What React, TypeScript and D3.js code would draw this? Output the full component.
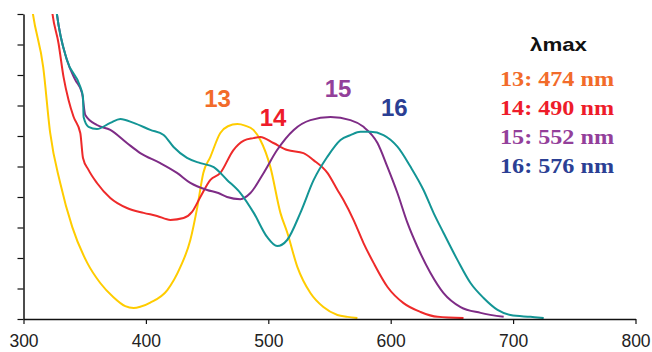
import React, { useRef, useEffect } from 'react';
import * as d3 from 'd3';

// wavelengths (nm) and absorbance (arbitrary units, 0..1 = full axis)
const wl13 = [305, 307.7, 316.1, 321.8, 330, 339.8, 352.1, 362.7, 373.3, 383.1, 390, 395.4, 403.6, 417.5, 428.1, 436.3, 442, 446.9, 452.6, 460.8, 467, 474.7, 481, 487.8, 493.5, 501.7, 509.9, 515.6, 523.8, 534.4, 545, 556.5, 564.7, 572.8];
const abs13 = [1.08, 1.0, 0.826, 0.61, 0.446, 0.302, 0.184, 0.118, 0.072, 0.042, 0.036, 0.04, 0.054, 0.095, 0.17, 0.259, 0.367, 0.479, 0.531, 0.61, 0.632, 0.639, 0.634, 0.62, 0.587, 0.498, 0.348, 0.282, 0.17, 0.085, 0.039, 0.013, 0.007, 0.003];

const wl14 = [321, 323.7, 328.6, 332.7, 336.8, 340.9, 346.4, 348.6, 353.1, 360, 370.9, 384.5, 398.1, 409.1, 420, 430.8, 437.7, 444.5, 452.7, 460.8, 471.5, 480, 487.8, 493.5, 504.2, 515.6, 528.7, 536.9, 548.3, 556.5, 561.4, 569.6, 577.8, 586, 597.4, 610.5, 624.4, 638.3, 659.5];
const abs14 = [1.1, 1.0, 0.904, 0.794, 0.718, 0.663, 0.61, 0.528, 0.489, 0.446, 0.397, 0.364, 0.348, 0.338, 0.325, 0.331, 0.351, 0.4, 0.456, 0.479, 0.554, 0.585, 0.593, 0.597, 0.577, 0.554, 0.544, 0.521, 0.479, 0.423, 0.39, 0.325, 0.249, 0.184, 0.105, 0.052, 0.023, 0.007, 0.003];

const wl15 = [325, 327.3, 335.5, 342.3, 347.8, 350.5, 360, 370.9, 384.5, 395.4, 411.8, 425.4, 436.3, 450, 459.2, 466.3, 477.2, 485.4, 496.2, 507.2, 520.8, 534.4, 550.8, 567.1, 577.8, 589.2, 597.4, 605.5, 613.7, 621.9, 632.5, 643.2, 657.1, 673.5, 692.3];
const abs15 = [1.08, 1.0, 0.849, 0.784, 0.741, 0.669, 0.636, 0.62, 0.577, 0.544, 0.511, 0.479, 0.446, 0.423, 0.413, 0.4, 0.393, 0.413, 0.479, 0.554, 0.62, 0.652, 0.662, 0.652, 0.63, 0.577, 0.498, 0.413, 0.315, 0.236, 0.151, 0.085, 0.039, 0.02, 0.007];

const wl16 = [325, 327.3, 335.5, 346.4, 348.6, 349.1, 353.1, 360, 370.9, 379.1, 390, 403.6, 414.5, 422.6, 433.6, 444.5, 455.4, 466.3, 477.2, 488.1, 499, 507.2, 515.4, 526.2, 537.1, 548.1, 559, 567.1, 575.3, 583.5, 594.1, 605.5, 616.2, 626.8, 635, 643.2, 654.6, 665.2, 675.9, 687.3, 697.9, 714.3, 725];
const abs16 = [1.08, 1.0, 0.849, 0.761, 0.728, 0.662, 0.63, 0.623, 0.643, 0.656, 0.643, 0.62, 0.603, 0.564, 0.528, 0.511, 0.498, 0.456, 0.413, 0.348, 0.269, 0.239, 0.259, 0.348, 0.456, 0.531, 0.587, 0.603, 0.614, 0.614, 0.603, 0.565, 0.499, 0.423, 0.348, 0.282, 0.193, 0.118, 0.069, 0.03, 0.013, 0.007, 0.003];

const seriesNames = ['13', '14', '15', '16'];
const lineColors = ['#ffcc00', '#ee2a2a', '#7e2c86', '#139595'];
const labelColors = ['#f26b2a', '#ee1c2a', '#93409a', '#2b3f94'];
// peak label anchors: [wavelength, absorbance]
const labelPos = [[458.5, 0.723], [503.9, 0.66], [557, 0.756], [603, 0.693]];
const legendTexts = ['13: 474 nm', '14: 490 nm', '15: 552 nm', '16: 576 nm'];
const xTicks = [300, 400, 500, 600, 700, 800];

const App = () => {
  const svgRef = useRef<SVGSVGElement>(null);

  useEffect(() => {
    const svg = d3.select(svgRef.current);
    svg.selectAll('*').remove();

    const left = 23.5, right = 635.5, top = 14, bottom = 319;
    const x = d3.scaleLinear().domain([300, 800]).range([left, right]);
    const y = d3.scaleLinear().domain([0, 1]).range([bottom, top]);

    svg.append('defs').append('clipPath').attr('id', 'plot')
      .append('rect').attr('x', left).attr('y', top).attr('width', right - left).attr('height', bottom - top);

    const line = d3.line<[number, number]>()
      .x(d => x(d[0]))
      .y(d => y(d[1]))
      .curve(d3.curveMonotoneX);

    const series = [[wl13, abs13], [wl14, abs14], [wl15, abs15], [wl16, abs16]];
    const g = svg.append('g').attr('clip-path', 'url(#plot)');
    series.forEach(([wl, ab], i) => {
      g.append('path')
        .datum(wl.map((w, j) => [w, ab[j]] as [number, number]))
        .attr('d', line)
        .attr('fill', 'none')
        .attr('stroke', lineColors[i])
        .attr('stroke-width', 2)
        .attr('stroke-linejoin', 'round');
    });

    // x axis
    const xAxis = svg.append('g')
      .attr('transform', `translate(0,${bottom})`)
      .call(d3.axisBottom(x).tickValues(xTicks).tickSize(5).tickSizeOuter(0).tickPadding(11));
    xAxis.select('.domain').attr('stroke', '#111').attr('stroke-width', 1.5);
    xAxis.selectAll('line').attr('stroke', '#111').attr('stroke-width', 1.2);
    xAxis.selectAll('text')
      .style('font-family', 'Liberation Sans, Arial, sans-serif')
      .style('font-size', '17.5px')
      .style('fill', '#222');

    // y axis, no labels
    const yAxis = svg.append('g')
      .attr('transform', `translate(${left},0)`)
      .call(d3.axisLeft(y).ticks(10).tickSize(6).tickSizeOuter(0).tickFormat(() => ''));
    yAxis.select('.domain').attr('stroke', '#111').attr('stroke-width', 1.5);
    yAxis.selectAll('line').attr('stroke', '#111').attr('stroke-width', 1.2);

    // peak labels
    seriesNames.forEach((name, i) => {
      svg.append('text')
        .attr('x', x(labelPos[i][0]))
        .attr('y', y(labelPos[i][1]))
        .attr('text-anchor', 'middle')
        .attr('dominant-baseline', 'central')
        .style('font-family', 'Liberation Sans, Arial, sans-serif')
        .style('font-weight', 700)
        .style('font-size', '24px')
        .style('fill', labelColors[i])
        .text(name);
    });

    // legend
    svg.append('text')
      .attr('x', 530).attr('y', 51)
      .attr('textLength', 57).attr('lengthAdjust', 'spacingAndGlyphs')
      .style('font-family', 'Liberation Sans, Arial, sans-serif')
      .style('font-weight', 700)
      .style('font-size', '19px')
      .style('fill', '#111')
      .text('λmax');

    legendTexts.forEach((t, i) => {
      svg.append('text')
        .attr('x', 500).attr('y', 86 + i * 29)
        .attr('textLength', 114).attr('lengthAdjust', 'spacingAndGlyphs')
        .style('font-family', 'Liberation Serif, Times New Roman, serif')
        .style('font-weight', 700)
        .style('font-size', '20px')
        .style('fill', labelColors[i])
        .text(t);
    });
  }, []);

  return (
    <div style={{ position: 'absolute', left: 0, top: 0 }}>
      <svg ref={svgRef} width={652} height={352} style={{ display: 'block', background: '#fff' }}></svg>
    </div>
  );
};

export default App;
